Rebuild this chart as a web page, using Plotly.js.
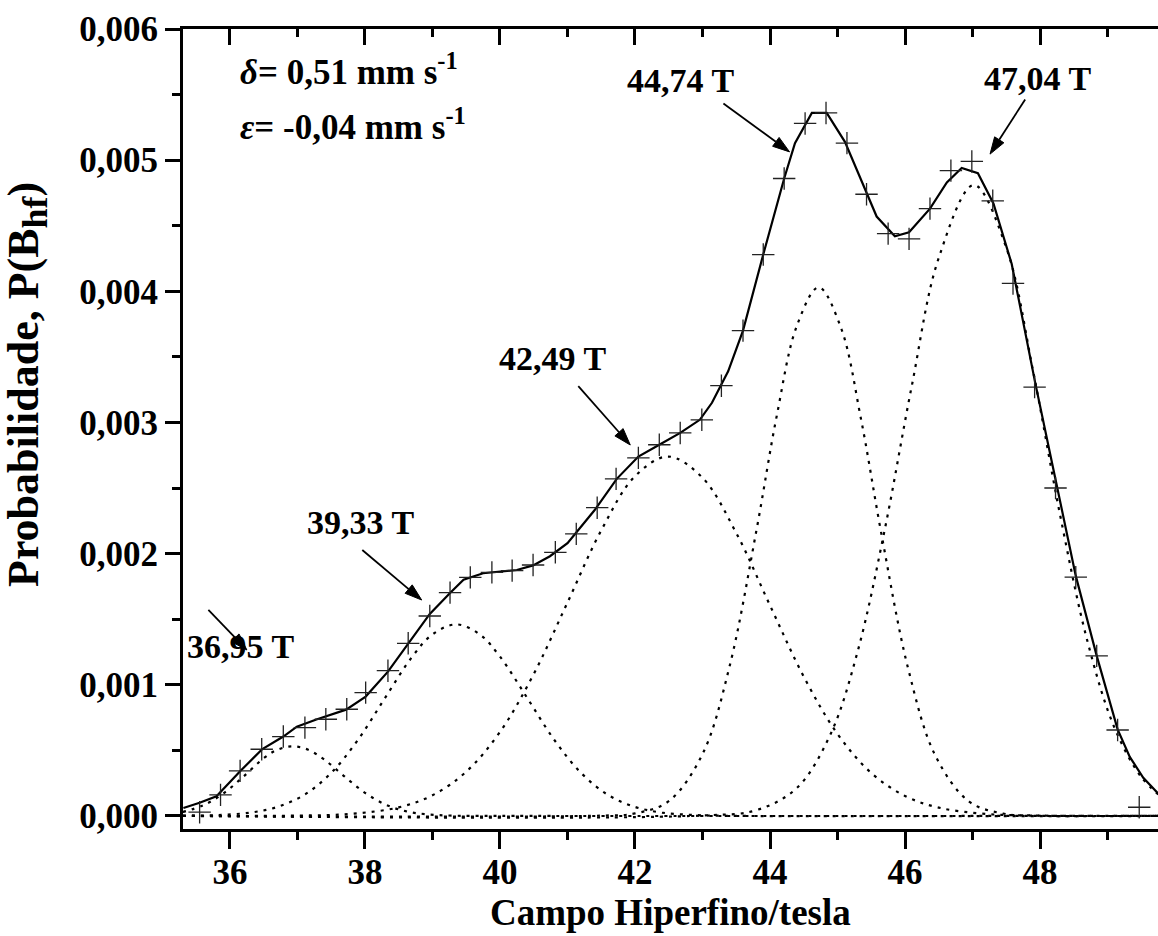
<!DOCTYPE html>
<html>
<head>
<meta charset="utf-8">
<script src="https://cdn.plot.ly/plotly-3.0.1.min.js"></script>
<style>html,body{margin:0;padding:0;background:#fff}#chart{width:1158px;height:936px}</style>
</head>
<body>
<div id="chart"></div>
<script>
// Experimental points (+)
const expX = [35.55, 35.86, 36.15, 36.47, 36.79, 37.11, 37.42, 37.73, 38.01, 38.34, 38.64, 38.96, 39.26, 39.56, 39.88, 40.18, 40.49, 40.82, 41.13, 41.44, 41.72, 42.05, 42.36, 42.67, 42.99, 43.28, 43.60, 43.90, 44.21, 44.52, 44.83, 45.14, 45.43, 45.75, 46.06, 46.37, 46.68, 46.99, 47.30, 47.60, 47.92, 48.23, 48.53, 48.84, 49.15, 49.47];
const expY = [0.000028, 0.00016, 0.000343, 0.000508, 0.000605, 0.000673, 0.000737, 0.000813, 0.00094, 0.001107, 0.001316, 0.001524, 0.001702, 0.001819, 0.001857, 0.00187, 0.001913, 0.00201, 0.00215, 0.00235, 0.00257, 0.00273, 0.00283, 0.00292, 0.00302, 0.00328, 0.0037, 0.00428, 0.00486, 0.00528, 0.00536, 0.00513, 0.00474, 0.00444, 0.0044, 0.00463, 0.00492, 0.00499, 0.00469, 0.00406, 0.00327, 0.0025, 0.00182, 0.00122, 0.000655, 0.000066];

// Fitted distribution (solid line)
const fitX = [35.31, 35.55, 35.80, 36.15, 36.48, 36.79, 36.99, 37.28, 37.72, 38.01, 38.34, 38.65, 38.96, 39.26, 39.46, 39.75, 40.25, 40.49, 40.74, 41.0, 41.4, 41.73, 42.05, 42.36, 42.67, 42.96, 43.14, 43.38, 43.60, 43.90, 44.21, 44.37, 44.62, 44.84, 45.11, 45.58, 45.85, 46.06, 46.37, 46.62, 46.84, 47.08, 47.31, 47.58, 47.93, 48.24, 48.53, 48.84, 49.15, 49.33, 49.53, 49.75];
const fitY = [0.00006, 0.0001, 0.00015, 0.00034, 0.00051, 0.000605, 0.00068, 0.000735, 0.00081, 0.00091, 0.0011, 0.00132, 0.00154, 0.0017, 0.0018, 0.00185, 0.001875, 0.00191, 0.00198, 0.00208, 0.00233, 0.00257, 0.00274, 0.00283, 0.00292, 0.00302, 0.00315, 0.00339, 0.0037, 0.00428, 0.00486, 0.00513, 0.00536, 0.00536, 0.00514, 0.00457, 0.00442, 0.00445, 0.00463, 0.00483, 0.00494, 0.0049, 0.00467, 0.00421, 0.0033, 0.00254, 0.00183, 0.00122, 0.00066, 0.00045, 0.00029, 0.00017];

// Component 36,95 T
const g1X = [35.3, 35.6, 35.9, 36.2, 36.5, 36.7, 36.93, 37.15, 37.4, 37.7, 38.0, 38.3, 38.6, 38.9, 39.3, 40.0, 49.8];
const g1Y = [0.00003, 0.00008, 0.00017, 0.0003, 0.00044, 0.000504, 0.00053, 0.000506, 0.000428, 0.000299, 0.000176, 0.000087, 0.000036, 0.000013, 0.000002, 0, 0];
// Component 39,33 T
const g2X = [35.3, 35.8, 36.3, 36.7, 37.1, 37.5, 37.9, 38.3, 38.7, 39.0, 39.35, 39.7, 40.0, 40.4, 40.8, 41.2, 41.6, 42.0, 42.4, 42.9, 43.5, 49.8];
const g2Y = [0.000001, 0.000006, 0.000025, 0.000068, 0.00016, 0.000328, 0.000583, 0.000902, 0.001214, 0.001384, 0.00146, 0.001384, 0.001214, 0.000902, 0.000583, 0.000328, 0.00016, 0.000068, 0.000025, 0.000006, 0, 0];
// Component 42,49 T
const g3X = [35.3, 37.0, 37.8, 38.5, 39.0, 39.5, 40.0, 40.5, 41.0, 41.5, 42.0, 42.49, 43.0, 43.5, 44.0, 44.5, 45.0, 45.5, 46.0, 46.5, 47.2, 48.0, 49.8];
const g3Y = [0, 0.000002, 0.000016, 0.000065, 0.000157, 0.000337, 0.00064, 0.001082, 0.001627, 0.002177, 0.00259, 0.00274, 0.002578, 0.002157, 0.001605, 0.001062, 0.000625, 0.000327, 0.000152, 0.000063, 0.000015, 0.000002, 0];
// Component 44,74 T
const g4X = [35.3, 41.5, 42.0, 42.5, 43.0, 43.4, 43.8, 44.1, 44.4, 44.72, 45.05, 45.35, 45.65, 46.05, 46.45, 46.95, 47.45, 48.0, 49.8];
const g4Y = [0, 0.000002, 0.000019, 0.000112, 0.000471, 0.001138, 0.00218, 0.00305, 0.00374, 0.00403, 0.003724, 0.003021, 0.002151, 0.001116, 0.000459, 0.000109, 0.000018, 0.000001, 0];
// Component 47,04 T
const g5X = [35.3, 43.0, 43.8, 44.4, 44.9, 45.3, 45.7, 46.1, 46.5, 47.02, 47.5, 47.9, 48.3, 48.7, 49.1, 49.5, 49.8];
const g5Y = [0, 0.000003, 0.000044, 0.000214, 0.000627, 0.001257, 0.002183, 0.003277, 0.004255, 0.00481, 0.004333, 0.003385, 0.002288, 0.001337, 0.000676, 0.000296, 0.000144];

const peakLabels = ['36,95 T', '39,33 T', '42,49 T', '44,74 T', '47,04 T'];
const xTickVals = [36, 38, 40, 42, 44, 46, 48];
const xTitle = 'Campo Hiperfino/tesla';
const yTitle = 'Probabilidade, P(B<sub><span style="font-size:36px">hf</span></sub>)';

const FONT = '"Liberation Serif", "Times New Roman", Times, serif';
const XR = [35.304, 49.748], YR = [-0.0001, 0.006];
const PW = 975, PH = 800;
const dotted = {color: '#000', width: 2.2, dash: '3px,6px', shape: 'spline', smoothing: 1};

const comps = [[g1X, g1Y], [g2X, g2Y], [g3X, g3Y], [g4X, g4Y], [g5X, g5Y]];
const traces = comps.map(c => ({x: c[0], y: c[1], type: 'scatter', mode: 'lines', line: dotted, hoverinfo: 'skip', showlegend: false}));
traces.push({x: fitX, y: fitY, type: 'scatter', mode: 'lines', line: {color: '#000', width: 2.2}, showlegend: false});
traces.push({x: expX, y: expY, type: 'scatter', mode: 'markers', marker: {symbol: 'cross-thin', size: 16, line: {color: '#222', width: 1.3}}, showlegend: false});
traces.push({x: [XR[0]], y: [YR[0]], xaxis: 'x2', type: 'scatter', mode: 'markers', marker: {opacity: 0}, hoverinfo: 'skip', showlegend: false});

// arrows (head point, tail point) built as shapes
const arrowDefs = [
  [36.25, 0.001265, 35.68, 0.00157],
  [38.84, 0.001646, 37.96, 0.002027],
  [41.93, 0.002828, 41.16, 0.003277],
  [44.29, 0.005063, 43.31, 0.005432],
  [47.26, 0.005046, 47.78, 0.005463]
];
const sx = PW / (XR[1] - XR[0]), sy = PH / (YR[1] - YR[0]);
const shapes = [];
arrowDefs.forEach(a => {
  const hx = a[0] * sx, hy = -a[1] * sy, tx = a[2] * sx, ty = -a[3] * sy;
  const dx = hx - tx, dy = hy - ty, L = Math.hypot(dx, dy);
  const ux = dx / L, uy = dy / L, HL = 17, HW = 5.5;
  const bx = hx - ux * HL, by = hy - uy * HL;
  const p1 = [bx - uy * HW, by + ux * HW], p2 = [bx + uy * HW, by - ux * HW];
  const toD = p => [(p[0] / sx).toFixed(5), (-p[1] / sy).toFixed(7)];
  const d1 = toD(p1), d2 = toD(p2), db = toD([bx, by]);
  shapes.push({type: 'line', xref: 'x', yref: 'y', x0: a[2], y0: a[3], x1: +db[0], y1: +db[1], line: {color: '#000', width: 1.8}});
  shapes.push({type: 'path', xref: 'x', yref: 'y', path: `M ${a[0]} ${a[1]} L ${d1[0]} ${d1[1]} L ${d2[0]} ${d2[1]} Z`, fillcolor: '#000', line: {color: '#000', width: 1}});
});

const labelPos = [[36.16, 0.00129], [37.93, 0.00224], [40.785, 0.00349], [42.67, 0.00561], [47.97, 0.005625]];
const labels = peakLabels.map((t, i) => ({text: '<b>' + t + '</b>', x: labelPos[i][0], y: labelPos[i][1], showarrow: false, xanchor: 'center', yanchor: 'middle', font: {family: FONT, size: 34, color: '#000'}}));

const params = [
  {text: '<b><i>δ</i>= 0,51 mm s<sup>-1</sup></b>', x: 36.12, y: 0.00569},
  {text: '<b><i>ε</i>= -0,04 mm s<sup>-1</sup></b>', x: 36.12, y: 0.00527}
].map(p => Object.assign({showarrow: false, xanchor: 'left', yanchor: 'middle', font: {family: FONT, size: 35, color: '#000'}}, p));

const titles = [
  {text: '<b>' + xTitle + '</b>', xref: 'paper', yref: 'paper', x: 0.5, y: -0.1325, xanchor: 'center', yanchor: 'bottom', showarrow: false, font: {family: FONT, size: 37, color: '#000'}},
  {text: '<b>' + yTitle + '</b>', xref: 'paper', yref: 'paper', x: -0.16, y: 0.555, xanchor: 'center', yanchor: 'middle', textangle: -90, showarrow: false, font: {family: FONT, size: 44, color: '#000'}}
];

const layout = {
  width: 1158, height: 936,
  margin: {l: 183, r: 0, t: 29, b: 107, pad: 0},
  paper_bgcolor: '#fff', plot_bgcolor: '#fff',
  separators: ',.',
  font: {family: FONT, color: '#000'},
  showlegend: false,
  xaxis: {
    range: XR, tickvals: xTickVals, ticktext: xTickVals.map(String),
    ticks: 'outside', ticklen: 17, tickwidth: 3, tickcolor: '#000',
    ticklabelstandoff: -7,
    minor: {dtick: 1, tick0: 0, ticks: 'outside', ticklen: 8, tickwidth: 3, tickcolor: '#000', showgrid: false},
    showline: true, linewidth: 3, linecolor: '#000', mirror: false,
    showgrid: false, zeroline: false,
    tickfont: {family: FONT, size: 35, weight: 'bold', color: '#000'}
  },
  xaxis2: {
    overlaying: 'x', side: 'top', anchor: 'y',
    range: XR, tickvals: xTickVals,
    ticks: 'inside', ticklen: 16, tickwidth: 3, tickcolor: '#000',
    minor: {dtick: 1, tick0: 0, ticks: 'inside', ticklen: 8, tickwidth: 3, tickcolor: '#000', showgrid: false},
    showline: true, linewidth: 3, linecolor: '#000',
    showticklabels: false, showgrid: false, zeroline: false
  },
  yaxis: {
    range: YR, dtick: 0.001, tick0: 0, tickformat: '.3f',
    ticks: 'outside', ticklen: 15, tickwidth: 3, tickcolor: '#000',
    minor: {dtick: 0.0005, tick0: 0, ticks: 'outside', ticklen: 8, tickwidth: 3, tickcolor: '#000', showgrid: false},
    showline: true, linewidth: 3, linecolor: '#000', mirror: false,
    showgrid: false, zeroline: false,
    tickfont: {family: FONT, size: 35, weight: 'bold', color: '#000'}
  },
  shapes: shapes,
  annotations: labels.concat(params, titles)
};

Plotly.newPlot('chart', traces, layout, {staticPlot: true, displayModeBar: false});
</script>
</body>
</html>
